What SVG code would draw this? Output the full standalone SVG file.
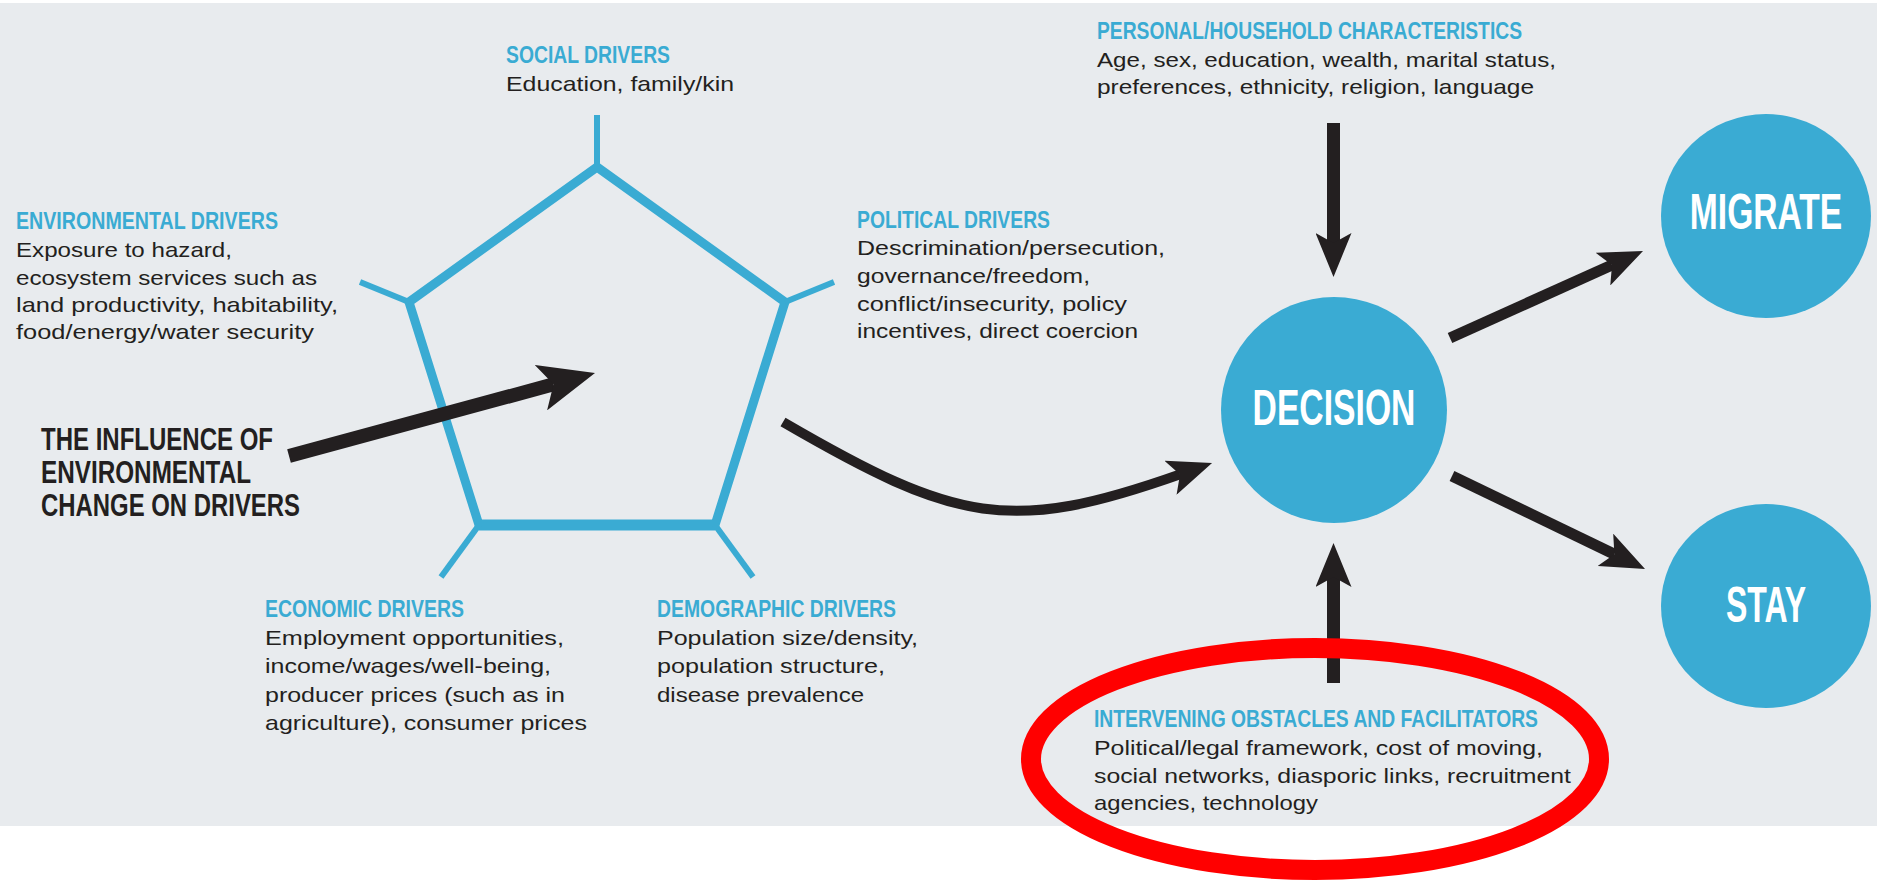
<svg xmlns="http://www.w3.org/2000/svg" width="1877" height="882" viewBox="0 0 1877 882">
<defs>
<style>
.h{font-family:"Liberation Sans",Arial,sans-serif;font-weight:bold;font-size:24px;fill:#3aabd3}
.b{font-family:"Liberation Sans",Arial,sans-serif;font-size:21px;fill:#231f20}
.big{font-family:"Liberation Sans",Arial,sans-serif;font-weight:bold;font-size:32px;fill:#231f20}
.c{font-family:"Liberation Sans",Arial,sans-serif;font-weight:bold;font-size:50px;fill:#ffffff;text-anchor:middle}
.node{fill:#3aabd3}
.pent{fill:none;stroke:#3aabd3;stroke-linejoin:miter}
.conn{fill:none;stroke:#231f20}
</style>
<marker id="ah" viewBox="0 0 44 36" markerWidth="44" markerHeight="36" refX="10" refY="18" orient="auto" markerUnits="userSpaceOnUse"><path d="M0,0 L44,18 L0,36 L10,18 Z" fill="#231f20"/></marker>
<marker id="ahBig" viewBox="0 0 56 47" markerWidth="56" markerHeight="47" refX="13" refY="23.5" orient="auto" markerUnits="userSpaceOnUse"><path d="M0,0 L56,23.5 L0,47 L13,23.5 Z" fill="#231f20"/></marker>
</defs>
<rect x="0" y="0" width="1877" height="882" fill="#ffffff"/>
<rect x="0" y="3" width="1877" height="823" fill="#e8ebee"/>

<g id="pentagon">
<polygon class="pent" stroke-width="9" points="597,167 785,302 715,525 479,525 409,302"/>
<line class="pent" stroke-width="11" x1="479" y1="525" x2="715" y2="525"/>
<g class="pent" stroke-width="6">
<line x1="597" y1="167" x2="597" y2="115"/>
<line x1="409" y1="302" x2="360" y2="282"/>
<line x1="785" y1="302" x2="834" y2="282"/>
<line x1="479" y1="525" x2="441" y2="577"/>
<line x1="715" y1="525" x2="753" y2="577"/>
</g>
</g>

<g id="social-drivers">
<text class="h" x="506" y="63" textLength="164" lengthAdjust="spacingAndGlyphs">SOCIAL DRIVERS</text>
<text class="b" x="506" y="91" textLength="228" lengthAdjust="spacingAndGlyphs">Education, family/kin</text>
</g>

<g id="environmental-drivers">
<text class="h" x="16" y="229" textLength="262" lengthAdjust="spacingAndGlyphs">ENVIRONMENTAL DRIVERS</text>
<text class="b" x="16" y="257" textLength="216" lengthAdjust="spacingAndGlyphs">Exposure to hazard,</text>
<text class="b" x="16" y="285" textLength="301" lengthAdjust="spacingAndGlyphs">ecosystem services such as</text>
<text class="b" x="16" y="312" textLength="322" lengthAdjust="spacingAndGlyphs">land productivity, habitability,</text>
<text class="b" x="16" y="339" textLength="298" lengthAdjust="spacingAndGlyphs">food/energy/water security</text>
</g>

<g id="political-drivers">
<text class="h" x="857" y="228" textLength="193" lengthAdjust="spacingAndGlyphs">POLITICAL DRIVERS</text>
<text class="b" x="857" y="255" textLength="308" lengthAdjust="spacingAndGlyphs">Descrimination/persecution,</text>
<text class="b" x="857" y="283" textLength="233" lengthAdjust="spacingAndGlyphs">governance/freedom,</text>
<text class="b" x="857" y="311" textLength="270" lengthAdjust="spacingAndGlyphs">conflict/insecurity, policy</text>
<text class="b" x="857" y="338" textLength="281" lengthAdjust="spacingAndGlyphs">incentives, direct coercion</text>
</g>

<g id="influence-label">
<text class="big" x="41" y="450" textLength="232" lengthAdjust="spacingAndGlyphs">THE INFLUENCE OF</text>
<text class="big" x="41" y="483" textLength="210" lengthAdjust="spacingAndGlyphs">ENVIRONMENTAL</text>
<text class="big" x="41" y="516" textLength="259" lengthAdjust="spacingAndGlyphs">CHANGE ON DRIVERS</text>
</g>

<g id="economic-drivers">
<text class="h" x="265" y="617" textLength="199" lengthAdjust="spacingAndGlyphs">ECONOMIC DRIVERS</text>
<text class="b" x="265" y="645" textLength="299" lengthAdjust="spacingAndGlyphs">Employment opportunities,</text>
<text class="b" x="265" y="673" textLength="286" lengthAdjust="spacingAndGlyphs">income/wages/well-being,</text>
<text class="b" x="265" y="702" textLength="300" lengthAdjust="spacingAndGlyphs">producer prices (such as in</text>
<text class="b" x="265" y="730" textLength="322" lengthAdjust="spacingAndGlyphs">agriculture), consumer prices</text>
</g>

<g id="demographic-drivers">
<text class="h" x="657" y="617" textLength="239" lengthAdjust="spacingAndGlyphs">DEMOGRAPHIC DRIVERS</text>
<text class="b" x="657" y="645" textLength="261" lengthAdjust="spacingAndGlyphs">Population size/density,</text>
<text class="b" x="657" y="673" textLength="228" lengthAdjust="spacingAndGlyphs">population structure,</text>
<text class="b" x="657" y="702" textLength="207" lengthAdjust="spacingAndGlyphs">disease prevalence</text>
</g>

<g id="personal-household">
<text class="h" x="1097" y="39" textLength="425" lengthAdjust="spacingAndGlyphs">PERSONAL/HOUSEHOLD CHARACTERISTICS</text>
<text class="b" x="1097" y="67" textLength="459" lengthAdjust="spacingAndGlyphs">Age, sex, education, wealth, marital status,</text>
<text class="b" x="1097" y="94" textLength="437" lengthAdjust="spacingAndGlyphs">preferences, ethnicity, religion, language</text>
</g>

<g id="intervening">
<text class="h" x="1094" y="727" textLength="444" lengthAdjust="spacingAndGlyphs">INTERVENING OBSTACLES AND FACILITATORS</text>
<text class="b" x="1094" y="755" textLength="449" lengthAdjust="spacingAndGlyphs">Political/legal framework, cost of moving,</text>
<text class="b" x="1094" y="783" textLength="477" lengthAdjust="spacingAndGlyphs">social networks, diasporic links, recruitment</text>
<text class="b" x="1094" y="810" textLength="224" lengthAdjust="spacingAndGlyphs">agencies, technology</text>
</g>

<g id="decision">
<circle class="node" cx="1334" cy="410" r="113"/>
<text class="c" transform="translate(1334,425) scale(0.674,1)">DECISION</text>
</g>

<g id="migrate">
<ellipse class="node" cx="1766" cy="216" rx="105" ry="102"/>
<text class="c" transform="translate(1766,229) scale(0.672,1)">MIGRATE</text>
</g>

<g id="stay">
<ellipse class="node" cx="1766" cy="606" rx="105" ry="102"/>
<text class="c" transform="translate(1766,622) scale(0.64,1)">STAY</text>
</g>

<g id="connectors">
<path class="conn" stroke-width="14" d="M289,456 L553.5,384.3" marker-end="url(#ahBig)"/>
<path class="conn" stroke-width="10" d="M783,422 C956,522.6 1010,534.5 1180,474.4" marker-end="url(#ah)"/>
<path class="conn" stroke-width="13" d="M1333.5,123 L1333.5,243" marker-end="url(#ah)"/>
<path class="conn" stroke-width="13" d="M1333.5,683 L1333.5,577" marker-end="url(#ah)"/>
<path class="conn" stroke-width="11" d="M1450,338 L1612,265" marker-end="url(#ah)"/>
<path class="conn" stroke-width="11" d="M1452,476 L1614.4,554.2" marker-end="url(#ah)"/>
</g>

<g id="highlight">
<ellipse cx="1315" cy="759" rx="284" ry="111" fill="none" stroke="#ff0000" stroke-width="20"/>
</g>
</svg>
